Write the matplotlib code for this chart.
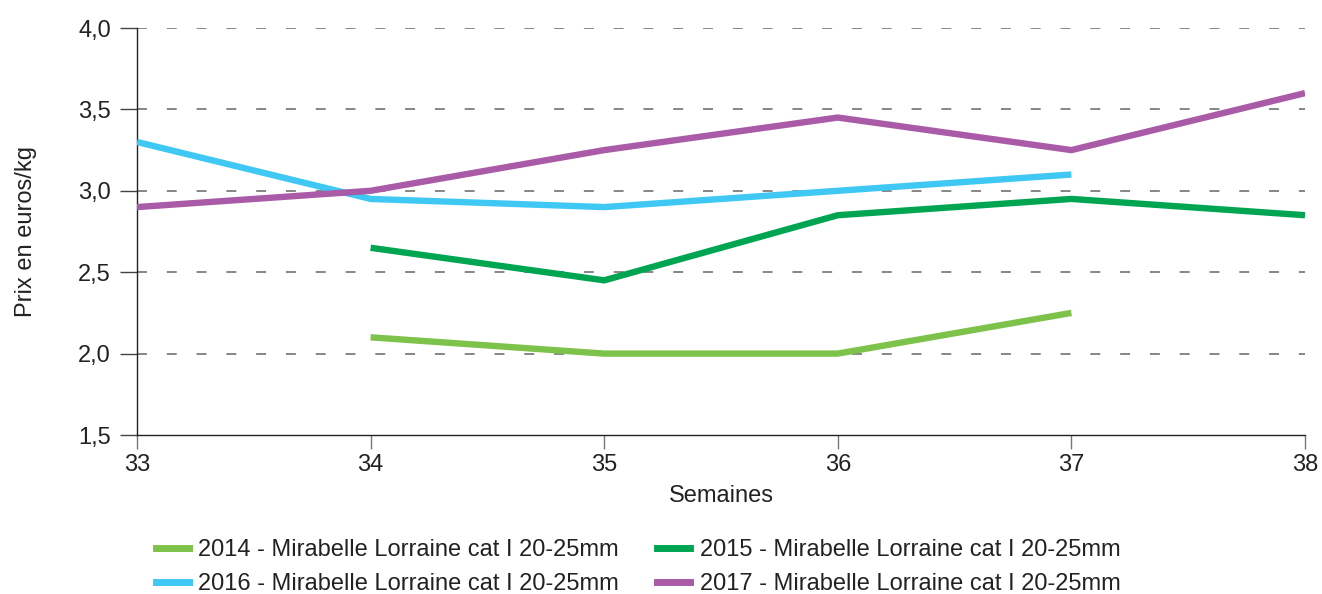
import matplotlib
matplotlib.use("Agg")
import matplotlib.pyplot as plt
from matplotlib.ticker import FuncFormatter
from matplotlib.lines import Line2D

plt.rcParams['font.family'] = ['Liberation Sans', 'DejaVu Sans']

weeks_2014 = [34, 35, 36, 37]
vals_2014 = [2.1, 2.0, 2.0, 2.25]
weeks_2015 = [34, 35, 36, 37, 38]
vals_2015 = [2.65, 2.45, 2.85, 2.95, 2.85]
weeks_2016 = [33, 34, 35, 36, 37]
vals_2016 = [3.3, 2.95, 2.9, 3.0, 3.1]
weeks_2017 = [33, 34, 35, 36, 37, 38]
vals_2017 = [2.9, 3.0, 3.25, 3.45, 3.25, 3.6]

labels = ["2014 - Mirabelle Lorraine cat I 20-25mm",
          "2015 - Mirabelle Lorraine cat I 20-25mm",
          "2016 - Mirabelle Lorraine cat I 20-25mm",
          "2017 - Mirabelle Lorraine cat I 20-25mm"]
colors = ["#7dc24b", "#00a551", "#40c8f4", "#a95ba7"]

xticks = [33, 34, 35, 36, 37, 38]
yticks = [1.5, 2.0, 2.5, 3.0, 3.5, 4.0]

FS = 17
fig = plt.figure(figsize=(13.22, 5.94), dpi=100)
ax = fig.add_axes([137/1322, 1-435/594, (1305-137)/1322, (435-28)/594])

series = [(weeks_2014, vals_2014), (weeks_2015, vals_2015),
          (weeks_2016, vals_2016), (weeks_2017, vals_2017)]
for (w, v), c, l in zip(series, colors, labels):
    ax.plot(w, v, color=c, lw=4.6, label=l, solid_capstyle='butt',
            solid_joinstyle='miter', zorder=3)

ax.set_xlim(33, 38)
ax.set_ylim(1.5, 4.0)
ax.set_xticks(xticks)
ax.set_yticks(yticks)
ax.yaxis.set_major_formatter(FuncFormatter(lambda v, p: f"{v:.1f}".replace('.', ',')))
for yv in yticks[1:]:
    ax.axhline(yv, color='#666666', lw=1.1, dashes=(6.5, 13), zorder=1)

for s in ['top', 'right']:
    ax.spines[s].set_visible(False)
for s in ['left', 'bottom']:
    ax.spines[s].set_color('#222222')
    ax.spines[s].set_linewidth(1.0)
ax.tick_params(axis='y', direction='out', length=12.2, width=1.0, color='#444444',
               labelsize=FS, labelcolor='#222222', pad=6.5)
ax.tick_params(axis='x', direction='out', length=10, width=1.0, color='#777777',
               labelsize=FS, labelcolor='#222222', pad=4)

ax.set_xlabel("Semaines", fontsize=FS, color='#222222', labelpad=6.5)
ax.set_ylabel("Prix en euros/kg", fontsize=FS, color='#222222', labelpad=30)

order = [0, 2, 1, 3]
handles = [Line2D([0], [0], color=colors[i], lw=5) for i in order]
leg_labels = [labels[i] for i in order]
fig.legend(handles, leg_labels, loc='upper left', bbox_to_anchor=(156/1322, 1-539/594),
           ncol=2, frameon=False, fontsize=FS, handlelength=1.4, handletextpad=0.4,
           columnspacing=1.6, labelspacing=0.5, labelcolor='#222222',
           borderpad=0, borderaxespad=0)

fig.savefig("out.png", dpi=100)
